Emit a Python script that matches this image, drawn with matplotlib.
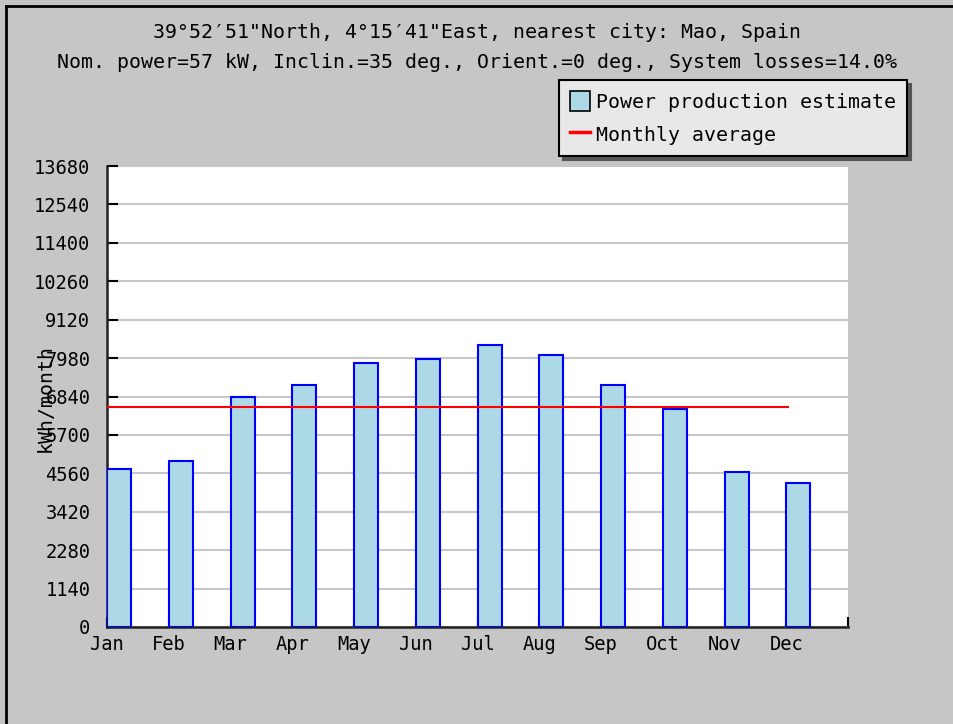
import numpy as np
import matplotlib
matplotlib.use('Agg')
import matplotlib.pyplot as plt
from matplotlib.patches import Patch
from matplotlib.lines import Line2D

months = ['Jan', 'Feb', 'Mar', 'Apr', 'May', 'Jun', 'Jul', 'Aug', 'Sep', 'Oct', 'Nov', 'Dec']
production = [4680, 4915, 6815, 7180, 7825, 7945, 8365, 8070, 7180, 6470, 4610, 4265]
y_ticks = [0, 1140, 2280, 3420, 4560, 5700, 6840, 7980, 9120, 10260, 11400, 12540, 13680]

title1 = '39°52′51"North, 4°15′41"East, nearest city: Mao, Spain'
title2 = 'Nom. power=57 kW, Inclin.=35 deg., Orient.=0 deg., System losses=14.0%'

avg = np.mean(production)

bg = '#c6c6c6'
font = 'DejaVu Sans Mono'
fs = 13.5
fs_big = 14.3

plt.rcParams['font.family'] = font

fig = plt.figure(figsize=(9.54, 7.24), dpi=100, facecolor=bg)
ax = fig.add_axes([107/954, 1 - 627/724, 741/954, 461/724])
ax.set_facecolor('white')

x = np.arange(len(months))
ax.bar(x, production, width=0.39, align='edge', color='#add8e6',
       edgecolor='#0000ff', linewidth=1.5, zorder=3)
ax.hlines(avg, 0, 11.05, color='red', linewidth=1.5, zorder=4)

ax.set_xlim(0, 12)
ax.set_ylim(0, 13680)
ax.set_yticks(y_ticks)
ax.set_yticklabels([str(v) for v in y_ticks], fontsize=fs)
ax.set_xticks(list(range(13)))
ax.set_xticklabels(months + [''], fontsize=fs)
ax.yaxis.grid(True, color='#c8c8c8', linewidth=1.5, zorder=0)
ax.set_axisbelow(True)

ax.tick_params(axis='y', direction='in', length=8, width=1.5, pad=12, colors='black')
ax.tick_params(axis='x', direction='in', length=7, width=1.5, pad=6, colors='black')
for s in ['top', 'right']:
    ax.spines[s].set_visible(False)
for s in ['left', 'bottom']:
    ax.spines[s].set_linewidth(1.8)
    ax.spines[s].set_color('#222222')

fig.text(45/954, 1 - 398/724, 'kWh/month', rotation=90, ha='center', va='center', fontsize=fs_big)

fig.text(0.5, 1 - 32/724, title1, ha='center', va='center', fontsize=fs_big)
fig.text(0.5, 1 - 62/724, title2, ha='center', va='center', fontsize=fs_big)

handles = [Patch(facecolor='#add8e6', edgecolor='black', linewidth=1.2),
           Line2D([], [], color='red', linewidth=2.5)]
leg = fig.legend(handles, ['Power production estimate', 'Monthly average'],
                 loc='upper left', bbox_to_anchor=(559/954, 1 - 80/724),
                 fontsize=fs_big, frameon=True, fancybox=False,
                 facecolor='#e8e8e8', edgecolor='black', framealpha=1,
                 shadow={'ox': 3, 'oy': -3, 'color': '#555555', 'alpha': 1},
                 handlelength=1.0, handleheight=1.2, handletextpad=0.3,
                 labelspacing=0.6, borderpad=0.55, borderaxespad=0)
leg.get_frame().set_linewidth(1.5)

# border on left and top
fig.add_artist(Line2D([6/954, 6/954], [0, 1 - 6/724], color='black', linewidth=2, transform=fig.transFigure))
fig.add_artist(Line2D([6/954, 1], [1 - 6/724, 1 - 6/724], color='black', linewidth=2, transform=fig.transFigure))

fig.savefig('out.png', dpi=100, facecolor=bg)
